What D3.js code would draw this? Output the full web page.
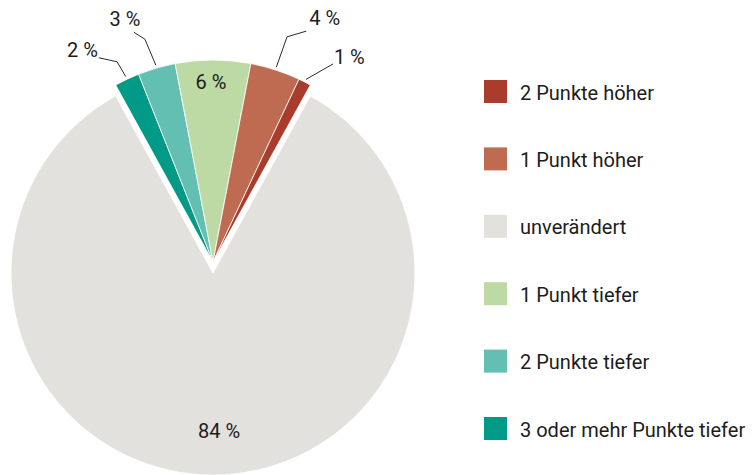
<!DOCTYPE html>
<html>
<head>
<meta charset="utf-8">
<script src="https://cdn.jsdelivr.net/npm/d3@7"></script>
<style>
  body { margin: 0; background: #fff; }
  svg { display: block; font-family: Roboto, "Noto Sans", sans-serif; }
</style>
</head>
<body>
<svg width="754" height="475"></svg>
<script>
// data
const categories = ["2 Punkte höher", "1 Punkt höher", "unverändert", "1 Punkt tiefer", "2 Punkte tiefer", "3 oder mehr Punkte tiefer"];
const values = [1, 4, 84, 6, 3, 2];
const labels = ["1 %", "4 %", "84 %", "6 %", "3 %", "2 %"];
const colors = ["#a93c2c", "#bf6b52", "#e3e1dd", "#bdd9a4", "#62bfb2", "#009a86"];
// clockwise drawing order, starting with the big slice
const pieOrder = ["unverändert", "3 oder mehr Punkte tiefer", "2 Punkte tiefer", "1 Punkt tiefer", "1 Punkt höher", "2 Punkte höher"];

function draw() {
    var svg = d3.select("svg");
    var cx = 213, cy = 267, r = 202;
    var deg = Math.PI / 180;

    var rows = categories.map(function(c, i) {
        return { cat: c, value: values[i], label: labels[i], color: colors[i] };
    });
    var ordered = pieOrder.map(function(c) { return rows.find(function(d) { return d.cat === c; }); });

    var total = d3.sum(values);
    var bigShare = values[categories.indexOf("unverändert")] / total;
    var start = (1 - bigShare) * Math.PI;

    var pie = d3.pie()
        .sort(null)
        .value(d => d.value)
        .startAngle(start)
        .endAngle(start + 2 * Math.PI);

    var arcs = pie(ordered);
    var arc = d3.arc().innerRadius(0).outerRadius(r);

    // big slice is pulled down, the small ones up
    var offset = function(d) { return d.data.cat === "unverändert" ? 6 : -5; };

    var g = svg.append("g").attr("transform", "translate(" + cx + "," + cy + ")");

    g.selectAll("path")
        .data(arcs)
        .enter()
        .append("path")
        .attr("d", arc)
        .attr("transform", d => "translate(0," + offset(d) + ")")
        .attr("fill", d => d.data.color)
        .attr("stroke", "#fff")
        .attr("stroke-width", 0.8);

    // polar helper, angle clockwise from top
    function polar(rad, a, dy) {
        return [rad * Math.sin(a), -rad * Math.cos(a) + dy];
    }

    // labels inside the slices
    var inside = { "unverändert": 158, "1 Punkt tiefer": 180 };
    arcs.filter(d => inside[d.data.cat]).forEach(function(d) {
        var mid = (d.startAngle + d.endAngle) / 2;
        var p = polar(inside[d.data.cat], mid, offset(d));
        g.append("text")
            .attr("x", p[0] + (d.data.cat === "unverändert" ? 6 : -2))
            .attr("y", p[1])
            .attr("text-anchor", "middle")
            .attr("dominant-baseline", "central")
            .attr("font-size", 20)
            .attr("fill", "#1c1c1c")
            .text(d.data.label);
    });

    // labels outside with leader lines
    var outside = {
        "3 oder mehr Punkte tiefer": { bend: [222, -25.6], end: [234, -29.2], anchor: "end", dx: -1, dy: -1 },
        "2 Punkte tiefer": { bend: [233, -17], end: [243, -19], anchor: "middle", dx: -9, dy: -6 },
        "1 Punkt höher": { bend: [237, 18.2], end: [249, 22], anchor: "start", dx: 3, dy: -6 },
        "2 Punkte höher": { bend: null, end: [231.5, 31.2], anchor: "start", dx: 1, dy: 0 }
    };
    arcs.filter(d => outside[d.data.cat]).forEach(function(d) {
        var o = outside[d.data.cat];
        var mid = (d.startAngle + d.endAngle) / 2;
        var dy = offset(d);
        var pts = [polar(r + 3, mid, dy)];
        if (o.bend) pts.push(polar(o.bend[0], o.bend[1] * deg, dy));
        var e = polar(o.end[0], o.end[1] * deg, dy);
        pts.push(e);
        g.append("path")
            .attr("d", d3.line()(pts))
            .attr("fill", "none")
            .attr("stroke", "#2a2a2a")
            .attr("stroke-width", 1);
        g.append("text")
            .attr("x", e[0] + o.dx)
            .attr("y", e[1] + o.dy)
            .attr("text-anchor", o.anchor)
            .attr("font-size", 20)
            .attr("fill", "#1c1c1c")
            .text(d.data.label);
    });

    // legend
    var legend = svg.append("g").attr("transform", "translate(484,80)");
    var item = legend.selectAll("g")
        .data(rows)
        .enter()
        .append("g")
        .attr("transform", (d, i) => "translate(0," + (i * 67.4) + ")");
    item.append("rect")
        .attr("width", 23)
        .attr("height", 23)
        .attr("fill", d => d.color);
    item.append("text")
        .attr("x", 36)
        .attr("y", 12.5)
        .attr("dominant-baseline", "central")
        .attr("font-size", 20)
        .attr("fill", "#1c1c1c")
        .text(d => d.cat);
}

draw();
</script>
</body>
</html>
